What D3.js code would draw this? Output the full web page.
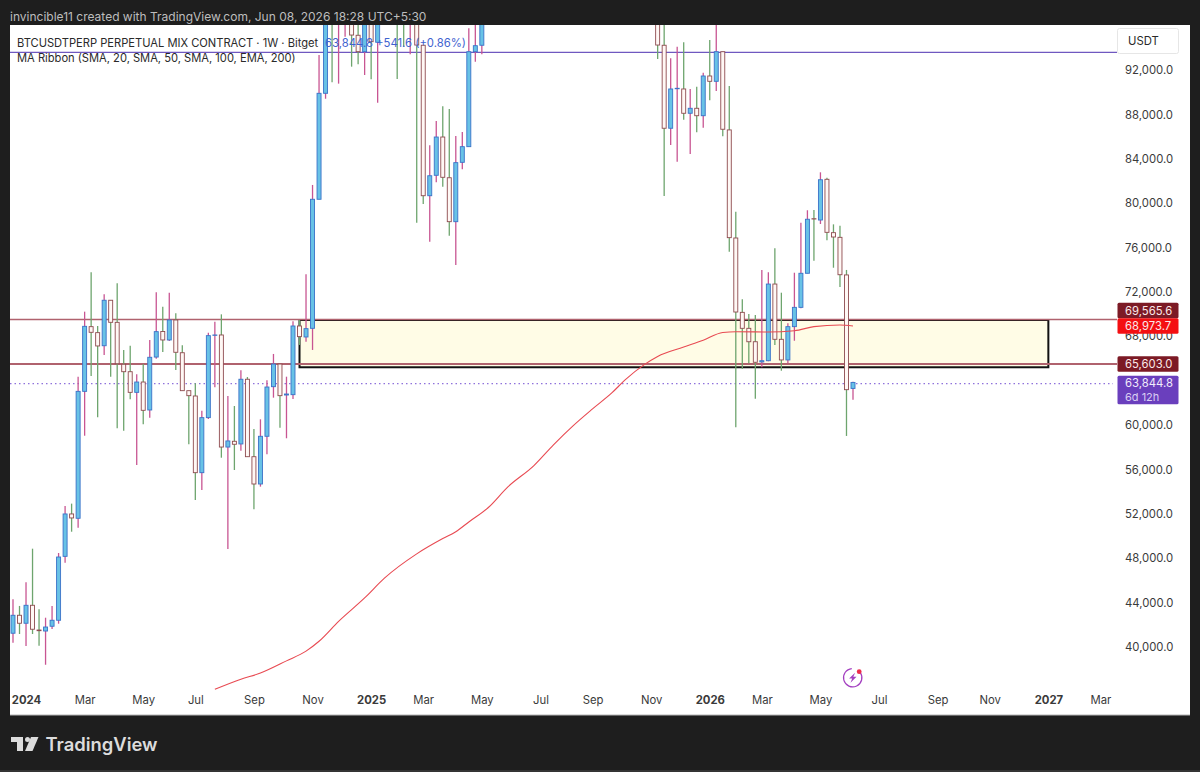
<!DOCTYPE html>
<html>
<head>
<meta charset="utf-8">
<title>BTCUSDTPERP 1W</title>
<script src="https://cdn.jsdelivr.net/npm/d3@7"></script>
<style>
  html, body { margin: 0; padding: 0; background: #1e1e1e; }
  svg { display: block; }
  text { font-family: Inter, "Noto Sans", sans-serif; }
</style>
</head>
<body>
<div id="chart"></div>
<script>
// weekly candles (the ones above the top edge are rough guesses)
var opens = [41240,42860,42140,43760,41530,41440,41870,42410,48170,51990,
    51600,63040,68870,68330,67150,71250,69260,65480,64810,62950,
    63880,61360,66130,68430,67670,69470,66520,63100,62620,55710,
    60670,68090,68120,58020,58540,58300,64130,57150,54690,58990,
    63460,65500,62710,62740,68930,67940,68720,80350,89900,98000,
    96500,97000,101000,95130,93650,99500,94500,104000,102000,101000,
    100000,96500,96500,94230,80670,82510,85960,82290,78330,83680,
    85090,93650,94230,103500,106400,109000,105700,105700,105500,100900,
    108400,109200,119000,117300,119400,114200,119300,117400,113500,108200,
    111100,115300,115300,112100,123500,114900,108600,114500,110500,104000,94230,
    86750,90310,90290,88100,88550,87880,91460,90980,93650,86600,
    76860,70160,68720,67510,65690,65800,72710,67730,65870,68870,
    70610,73680,78600,78480,82150,77340,76920,73530,63303];
var highs = [44300,43700,45830,48860,43400,42640,43700,48470,52710,52920,
    64360,70220,73770,68930,71790,71270,72780,66770,67150,64580,
    65500,67670,71970,70670,71930,70070,67190,63100,63770,61300,
    68330,69320,69980,62620,61720,64940,64330,59650,60520,64040,
    66410,65500,64360,69350,69470,73590,81640,93350,99800,99500,
    103000,104000,102000,98000,102000,100500,106000,105000,109000,103000,
    100500,99000,97500,94230,85210,87400,88730,88490,86050,86410,
    95760,97000,104000,107100,112000,110700,106800,110400,108900,108500,
    110500,119000,123200,120200,119800,119300,124500,117600,113800,113400,
    116700,117900,115400,125600,126200,115900,114000,116400,111500,106000,97000,
    93050,94100,94500,90290,90500,91760,94700,97000,93650,90560,
    79230,71340,70010,69920,73980,73770,75930,71930,69170,73730,
    78240,79360,79380,82780,82290,78090,77970,73980,63900];
var lows = [40390,41170,40090,41170,40120,38400,41620,42100,47600,50390,
    50750,59040,64420,60700,66320,64360,59710,59490,62320,56400,
    60070,60670,65980,66590,67580,64960,63100,58270,53250,54150,
    60550,63410,57060,48830,55950,57690,57150,52410,54450,57370,
    62470,59760,58810,62350,67220,67510,66770,80350,89410,90890,
    90770,95000,92300,92510,91550,91160,89050,97000,97000,91190,
    94100,93410,78240,79920,76530,81880,81480,77070,74430,83050,
    85090,92750,93410,100700,102100,103600,100400,102700,99600,100800,
    105100,107500,115700,114700,112000,112600,116800,110700,107300,107300,
    110600,114400,108600,111500,102000,103500,106100,106300,98000,92990,80640,
    85240,83740,87520,84430,86390,86800,89270,90110,86030,75630,
    59800,65050,65570,62380,65210,65750,67220,64900,65570,67600,
    70520,73680,74810,78120,76650,74180,72440,59020,62290];
var closes = [42860,42140,43760,41600,41470,41800,42410,48110,51990,51630,
    63040,68900,68360,67130,71250,69260,65530,64810,62950,63880,
    61330,66110,68420,67670,69470,66560,63100,62650,55710,60670,
    68060,68120,58020,58570,58270,64130,57150,54690,58990,63430,
    65500,62650,62800,68930,67970,68690,80350,89900,98000,96500,
    97000,101000,95150,93650,99500,94550,104000,102000,101000,97000,
    96500,98000,94250,80670,82470,85960,82330,78330,83650,85090,
    93650,94190,103500,106400,109000,105700,105700,105500,100900,108400,
    109200,119000,117300,119400,114200,119300,117400,113500,108200,111100,
    115300,115300,112100,123500,114900,108600,114500,110500,104000,94250,86750,
    90290,90350,88100,88550,87880,91460,90980,93650,86660,76890,
    70190,68720,67510,65660,65800,72710,67730,65870,68870,70610,
    73680,78550,78570,82110,77370,76950,73550,63190,63844.8];

// EMA 200 of the MA ribbon, the only band that shows (week number, value)
var maWeeks = [31,35,38,42,45,47,50,54,57,62,66,68,70,73,76,80,83,86,89,92,94,97,99,103,106,109,111,116,120,123,127,129];
var maValues = [36190,37100,37650,38750,39630,40520,42310,44420,46180,48390,49770,50380,51270,52570,54430,56350,58220,59930,61460,62920,64070,65470,66190,67030,67650,68340,68410,68390,68500,68870,69020,68930];

var priceTicks = [92000,88000,84000,80000,76000,72000,68000,60000,56000,52000,48000,44000,40000];

var timeTickDates = ["2024-01-01","2024-03-04","2024-05-06","2024-07-01","2024-09-02","2024-11-04",
    "2025-01-06","2025-03-03","2025-05-05","2025-07-07","2025-09-01","2025-11-03",
    "2026-01-05","2026-03-02","2026-05-04","2026-07-06","2026-09-07","2026-11-02",
    "2027-01-04","2027-03-01"];
var timeTickLabels = ["2024","Mar","May","Jul","Sep","Nov","2025","Mar","May","Jul","Sep","Nov","2026","Mar","May","Jul","Sep","Nov","2027","Mar"];

var upperLevel = 93580;
var levelLines = [69515, 65504];
var lastPriceLine = 63729;
var zoneDates = ["2024-10-21", "2027-01-04"];
var zonePrices = [69470, 65210];

var width = 1200, height = 772;
var panel = { left: 10, top: 25, right: 1190, bottom: 715 };

var parseDay = d3.utcParse("%Y-%m-%d");
var firstWeek = parseDay("2023-12-18");

function weekDate(i) {
    return d3.utcDay.offset(firstWeek, i * 7);
}

var x = d3.scaleUtc().domain([firstWeek, weekDate(opens.length - 1)]).range([13, 853]);
var y = d3.scaleLinear().domain([40000, 92000]).range([647, 70]);

var svg = d3.select("#chart").append("svg")
    .attr("width", width)
    .attr("height", height);

svg.append("rect")
    .attr("width", width)
    .attr("height", height)
    .attr("fill", "#1e1e1e");

svg.append("text")
    .attr("x", 10)
    .attr("y", 21)
    .attr("font-size", 12)
    .attr("fill", "#bdbdbd")
    .text("invincible11 created with TradingView.com, Jun 08, 2026 18:28 UTC+5:30");

svg.append("rect")
    .attr("x", panel.left)
    .attr("y", panel.top)
    .attr("width", panel.right - panel.left)
    .attr("height", panel.bottom - panel.top)
    .attr("fill", "#fff");

svg.append("defs").append("clipPath")
    .attr("id", "plot-clip")
    .append("rect")
    .attr("x", panel.left)
    .attr("y", panel.top)
    .attr("width", 1107)
    .attr("height", panel.bottom - panel.top);

var plot = svg.append("g").attr("clip-path", "url(#plot-clip)");

//Yellow zone
var zoneLeft = x(parseDay(zoneDates[0]));
var zoneRight = x(parseDay(zoneDates[1]));

plot.append("rect")
    .attr("x", zoneLeft)
    .attr("y", y(zonePrices[0]))
    .attr("width", zoneRight - zoneLeft)
    .attr("height", y(zonePrices[1]) - y(zonePrices[0]))
    .attr("fill", "#fffce6")
    .attr("stroke", "#111")
    .attr("stroke-width", 2);

//Horizontal levels
plot.append("line")
    .attr("x1", panel.left).attr("x2", 1117)
    .attr("y1", y(upperLevel)).attr("y2", y(upperLevel))
    .attr("stroke", "#6f58c0")
    .attr("stroke-width", 1.2);

plot.selectAll(".level")
    .data(levelLines)
    .enter()
    .append("line")
    .attr("class", "level")
    .attr("x1", panel.left).attr("x2", 1117)
    .attr("y1", function (d) { return y(d); })
    .attr("y2", function (d) { return y(d); })
    .attr("stroke", "#b0626e")
    .attr("stroke-width", function (d, i) { return i === 0 ? 1.4 : 1.8; });

plot.append("line")
    .attr("x1", panel.left).attr("x2", 1113)
    .attr("y1", y(lastPriceLine)).attr("y2", y(lastPriceLine))
    .attr("stroke", "#8f72dc")
    .attr("stroke-width", 1.2)
    .attr("stroke-dasharray", "1.5 3");

//Candles
var candles = d3.range(opens.length);

plot.selectAll(".wick")
    .data(candles)
    .enter()
    .append("line")
    .attr("class", "wick")
    .attr("x1", function (i) { return x(weekDate(i)); })
    .attr("x2", function (i) { return x(weekDate(i)); })
    .attr("y1", function (i) { return y(highs[i]); })
    .attr("y2", function (i) { return y(lows[i]); })
    .attr("stroke", function (i) { return closes[i] >= opens[i] ? "#c85592" : "#6ea56e"; })
    .attr("stroke-width", 1.3);

plot.selectAll(".body")
    .data(candles)
    .enter()
    .append("rect")
    .attr("class", "body")
    .attr("x", function (i) { return x(weekDate(i)) - 2; })
    .attr("width", 4)
    .attr("y", function (i) { return y(Math.max(opens[i], closes[i])); })
    .attr("height", function (i) { return Math.abs(y(opens[i]) - y(closes[i])); })
    .attr("fill", function (i) { return closes[i] >= opens[i] ? "#68c2e6" : "#fff8f5"; })
    .attr("stroke", function (i) { return closes[i] >= opens[i] ? "#3a72c8" : "#8e4b4f"; })
    .attr("stroke-width", 0.9);

//MA line
var maLine = d3.line()
    .x(function (d) { return x(weekDate(d)); })
    .y(function (d, i) { return y(maValues[i]); })
    .curve(d3.curveMonotoneX);

plot.append("path")
    .attr("d", maLine(maWeeks))
    .attr("fill", "none")
    .attr("stroke", "#e84a52")
    .attr("stroke-width", 1.1);

//Header
svg.append("text")
    .attr("x", 17).attr("y", 46.5)
    .attr("font-size", 11.15)
    .attr("fill", "#2a2a2a")
    .text("BTCUSDTPERP PERPETUAL MIX CONTRACT · 1W · Bitget");

svg.append("text")
    .attr("x", 325).attr("y", 46.5)
    .attr("font-size", 11.3)
    .attr("fill", "#3f63cf")
    .text("63,844.8  +541.6 (+0.86%)");

svg.append("text")
    .attr("x", 17).attr("y", 61.7)
    .attr("font-size", 11.15)
    .attr("fill", "#2a2a2a")
    .text("MA Ribbon (SMA, 20, SMA, 50, SMA, 100, EMA, 200)");

//Price axis
var yAxis = d3.axisRight(y)
    .tickValues(priceTicks)
    .tickSize(0)
    .tickPadding(0)
    .tickFormat(d3.format(",.1f"));

var yAxisG = svg.append("g")
    .attr("transform", "translate(1125,0)")
    .call(yAxis);
yAxisG.select(".domain").remove();
yAxisG.selectAll("text")
    .attr("font-size", 11.3)
    .attr("font-family", "Inter")
    .attr("fill", "#3a3a3a");

svg.append("rect")
    .attr("x", 1117.5).attr("y", 28.5)
    .attr("width", 61).attr("height", 25)
    .attr("rx", 2)
    .attr("fill", "#fff")
    .attr("stroke", "#e6e6e6");

svg.append("text")
    .attr("x", 1128).attr("y", 45)
    .attr("font-size", 11.3)
    .attr("fill", "#2a2a2a")
    .text("USDT");

//Time axis
var xAxis = d3.axisBottom(x)
    .tickValues(timeTickDates.map(parseDay))
    .tickSize(0)
    .tickPadding(0)
    .tickFormat(function (d, i) { return timeTickLabels[i]; });

var xAxisG = svg.append("g")
    .attr("transform", "translate(0,696)")
    .call(xAxis);
xAxisG.select(".domain").remove();
xAxisG.selectAll("text")
    .attr("font-size", 11.3)
    .attr("font-family", "Inter")
    .attr("fill", "#3a3a3a")
    .attr("font-weight", function (d, i) { return /^20/.test(timeTickLabels[i]) ? 700 : 400; });

svg.append("line")
    .attr("x1", panel.left).attr("x2", panel.right)
    .attr("y1", panel.bottom).attr("y2", panel.bottom)
    .attr("stroke", "#b5b5b5");

//Price tags
var tagValues = [69565.6, 68973.7, 65603.0];
var tagColors = ["#7c1a25", "#f40f12", "#7c1a25"];
var tagCenters = [310.5, 326, 364];

var tags = svg.selectAll(".tag")
    .data(tagValues)
    .enter()
    .append("g")
    .attr("class", "tag");

tags.append("rect")
    .attr("x", 1117.5)
    .attr("y", function (d, i) { return tagCenters[i] - 7.8; })
    .attr("width", 61)
    .attr("height", 15.6)
    .attr("rx", 1.5)
    .attr("fill", function (d, i) { return tagColors[i]; });

tags.append("text")
    .attr("x", 1125)
    .attr("y", function (d, i) { return tagCenters[i] + 4.2; })
    .attr("font-size", 11.3)
    .attr("fill", "#fbe9e9")
    .text(function (d) { return d3.format(",.1f")(d); });

svg.append("rect")
    .attr("x", 1117.5).attr("y", 375.7)
    .attr("width", 61).attr("height", 28.6)
    .attr("rx", 1.5)
    .attr("fill", "#6a3fbd");

svg.append("text")
    .attr("x", 1125).attr("y", 387)
    .attr("font-size", 11.3)
    .attr("fill", "#f1ecfb")
    .text(d3.format(",.1f")(closes[closes.length - 1]));

svg.append("text")
    .attr("x", 1125).attr("y", 400.5)
    .attr("font-size", 11)
    .attr("fill", "#d9cdf3")
    .text("6d 12h");

//Flash icon
var icon = svg.append("g").attr("transform", "translate(852.7,677.7)");

icon.append("path")
    .attr("d", d3.arc().innerRadius(8.6).outerRadius(9.8).startAngle(0.95).endAngle(Math.PI * 2 - 0.1)())
    .attr("fill", "#a33fc0");

icon.append("path")
    .attr("d", "M2.4,-5 L-3.6,0.9 L-0.5,0.9 L-2.2,5 L3.8,-0.9 L0.6,-0.9 Z")
    .attr("fill", "#a33fc0");

icon.append("circle")
    .attr("cx", 6.5).attr("cy", -6)
    .attr("r", 2.4)
    .attr("fill", "#ee2b4b");

//TradingView logo
var logo = svg.append("g").attr("transform", "translate(11,737)").attr("fill", "#dcdcdc");

logo.append("path").attr("d", "M0,0 H12 V14 H6 V5 H0 Z");
logo.append("circle").attr("cx", 16.5).attr("cy", 2.5).attr("r", 2.5);
logo.append("path").attr("d", "M20,0 H27.5 L21.5,14 H14 Z");

svg.append("text")
    .attr("x", 45.5).attr("y", 751)
    .attr("font-size", 18.4)
    .attr("font-weight", 600)
    .attr("fill", "#dcdcdc")
    .text("TradingView");

svg.append("line")
    .attr("x1", 0).attr("x2", width)
    .attr("y1", 771).attr("y2", 771)
    .attr("stroke", "#4a4a4a");
</script>
</body>
</html>
